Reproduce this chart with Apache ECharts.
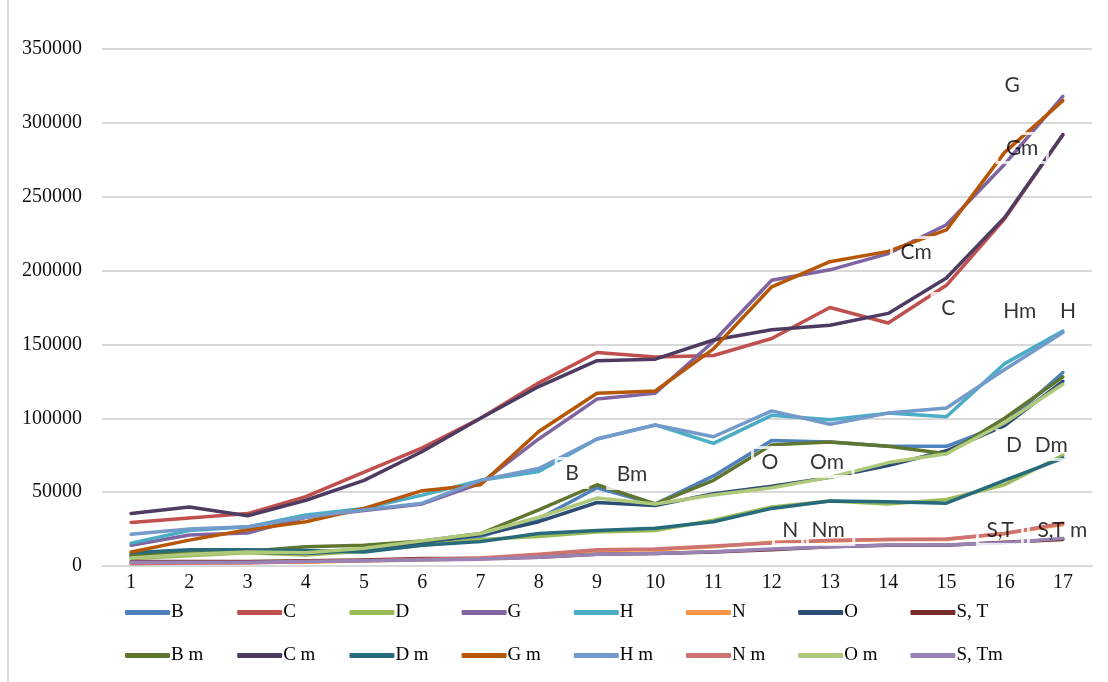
<!DOCTYPE html>
<html>
<head>
<meta charset="utf-8">
<script src="https://cdn.jsdelivr.net/npm/echarts@6/dist/echarts.min.js"></script>
<style>
html,body{margin:0;padding:0;background:#fff;}
#chart{width:1108px;height:682px;}
</style>
</head>
<body>
<div id="chart"></div>
<script>
var categories = ['1','2','3','4','5','6','7','8','9','10','11','12','13','14','15','16','17'];

var seriesNames = ['B','C','D','G','H','N','O','S, T','B m','C m','D m','G m','H m','N m','O m','S, Tm'];
var seriesColors = ['#4F81BD','#C0504D','#9BBB59','#8064A2','#4BACC6','#F79646','#2C4D75','#772C2A',
                    '#5F7530','#4D3B62','#276A7C','#B65708','#729ACA','#CD7371','#AFC97A','#9983B5'];

var B   = [6000, 8000, 9500, 9000, 10000, 15000, 20000, 32000, 53000, 42000, 61000, 85000, 84000, 81000, 81000, 96000, 131000];
var C   = [29500, 32500, 35500, 47000, 63500, 80000, 100000, 124000, 144500, 141500, 142500, 154000, 175000, 164500, 190000, 235000, 292000];
var D   = [5000, 7000, 9000, 7500, 10000, 14000, 18000, 20000, 23000, 24000, 31000, 40000, 44000, 42000, 45000, 55000, 75000];
var G   = [14000, 21000, 22300, 33000, 37500, 42000, 56000, 86000, 113000, 117000, 152000, 193500, 200500, 211500, 231000, 272000, 318000];
var H   = [15500, 24000, 26500, 34500, 39000, 48000, 58000, 64000, 86000, 95500, 83000, 102000, 99000, 103500, 101000, 137000, 159000];
var N   = [2000, 2000, 2500, 2500, 3500, 4000, 5000, 7500, 10500, 11000, 13000, 16000, 17000, 18000, 18000, 22000, 28000];
var O   = [7500, 9000, 9500, 8500, 11000, 16000, 21000, 30000, 43000, 41000, 49000, 54000, 60000, 68000, 78000, 95000, 125000];
var ST  = [3000, 3000, 3000, 3500, 4000, 5000, 5000, 6000, 8000, 8500, 9500, 11000, 13000, 14000, 14000, 16000, 18000];
var Bm  = [7000, 9000, 10000, 13000, 14000, 17000, 22000, 38000, 55000, 42000, 58000, 82000, 84000, 81000, 76000, 100000, 128000];
var Cm  = [35500, 40000, 34000, 44500, 58000, 77500, 100000, 121500, 139000, 140000, 153000, 160000, 163000, 171000, 195000, 236000, 292000];
var Dm  = [9000, 11000, 11000, 10500, 9500, 14000, 16500, 22000, 24000, 25500, 30000, 39000, 44000, 43500, 42500, 58000, 73000];
var Gm  = [9500, 17500, 24500, 30000, 39000, 51000, 55000, 91000, 117000, 118500, 147000, 189000, 206000, 213000, 227500, 280000, 315000];
var Hm  = [21500, 25000, 26500, 33000, 38000, 42500, 58000, 66000, 86000, 95500, 87500, 105000, 96000, 103500, 107000, 133000, 158000];
var Nm  = [1500, 2000, 2000, 3000, 3500, 4500, 5500, 8000, 11000, 11500, 13500, 15500, 17500, 18000, 18200, 22000, 29000];
var Om  = [5500, 8000, 9500, 9000, 12000, 17000, 22000, 33000, 46000, 42000, 48000, 53000, 60000, 70000, 76000, 97000, 123000];
var STm = [2500, 2500, 2500, 3000, 3500, 4000, 4500, 6000, 8000, 8400, 9700, 11500, 13000, 14200, 14200, 15800, 18700];

var seriesValues = [B, C, D, G, H, N, O, ST, Bm, Cm, Dm, Gm, Hm, Nm, Om, STm];

var yTicks = [0, 50000, 100000, 150000, 200000, 250000, 300000, 350000];

// in-plot annotation labels (data space: x on 1..17 scale, y in values)
var labelNames = ['G','Gm','Cm','C','Hm','H','D','Dm','O','Om','B','Bm','N','Nm','S,T','S,T m'];
var labelX = [16.13, 16.30, 14.48, 15.03, 16.26, 17.09, 16.16, 16.80, 11.97, 12.95, 8.57, 9.60, 12.32, 12.97, 15.92, 16.99];
var labelY = [325600, 283000, 212600, 174700, 172600, 172600, 81900, 81900, 70400, 70400, 63000, 62300, 24400, 24400, 24400, 24400];

var chart = echarts.init(document.getElementById('chart'), null, {renderer: 'canvas'});

var series = seriesNames.map(function (name, i) {
  return {
    name: name,
    type: 'line',
    data: seriesValues[i],
    symbol: 'none',
    smooth: false,
    lineStyle: {width: 3.5, color: seriesColors[i], cap: 'round', join: 'round'},
    itemStyle: {color: seriesColors[i]},
    z: 2,
    emphasis: {disabled: true}
  };
});

series.push({
  name: 'labels',
  type: 'scatter',
  xAxisIndex: 1,
  yAxisIndex: 0,
  symbolSize: 0,
  silent: true,
  z: 5,
  data: labelNames.map(function (n, i) { return {value: [labelX[i], labelY[i]], name: n}; }),
  label: {
    show: true,
    position: 'inside',
    formatter: function (p) { return p.name; },
    color: '#000',
    fontFamily: 'Lato',
    fontSize: 21,
    borderColor: '#fff',
    borderWidth: 3,
    padding: [5, 9, 3, 9]
  }
});

var legends = seriesNames.map(function (name, i) {
  var row = Math.floor(i / 8), col = i % 8;
  return {
    data: [name],
    left: 120 + col * 112.2,
    top: 598 + row * 43,
    icon: 'roundRect',
    itemWidth: 45,
    itemHeight: 5,
    itemGap: 0,
    selectedMode: false,
    textStyle: {fontFamily: 'Liberation Serif', fontSize: 19, color: '#000', padding: [0, 0, 0, -4]}
  };
});

chart.setOption({
  animation: false,
  backgroundColor: '#fff',
  grid: {left: 102, right: 16, top: 49, bottom: 116, containLabel: false},
  legend: legends,
  xAxis: [{
    type: 'category',
    data: categories,
    boundaryGap: true,
    axisLine: {show: true, lineStyle: {color: '#D9D9D9', width: 2}},
    axisTick: {show: false},
    axisLabel: {fontFamily: 'Liberation Serif', fontSize: 20, color: '#111', margin: 7}
  }, {
    type: 'value',
    min: 0.5,
    max: 17.5,
    show: false
  }],
  yAxis: {
    type: 'value',
    min: 0,
    max: 350000,
    interval: 50000,
    axisLine: {show: false},
    axisTick: {show: false},
    splitLine: {lineStyle: {color: '#D9D9D9', width: 2}},
    axisLabel: {fontFamily: 'Liberation Serif', fontSize: 20, color: '#111', margin: 20,
      formatter: function (v) { return yTicks.indexOf(v) >= 0 ? String(v) : ''; }}
  },
  graphic: [{
    type: 'line',
    shape: {x1: 8, y1: 0, x2: 8, y2: 682},
    style: {stroke: '#D9D9D9', lineWidth: 2},
    silent: true
  }],
  series: series
});
</script>
</body>
</html>
